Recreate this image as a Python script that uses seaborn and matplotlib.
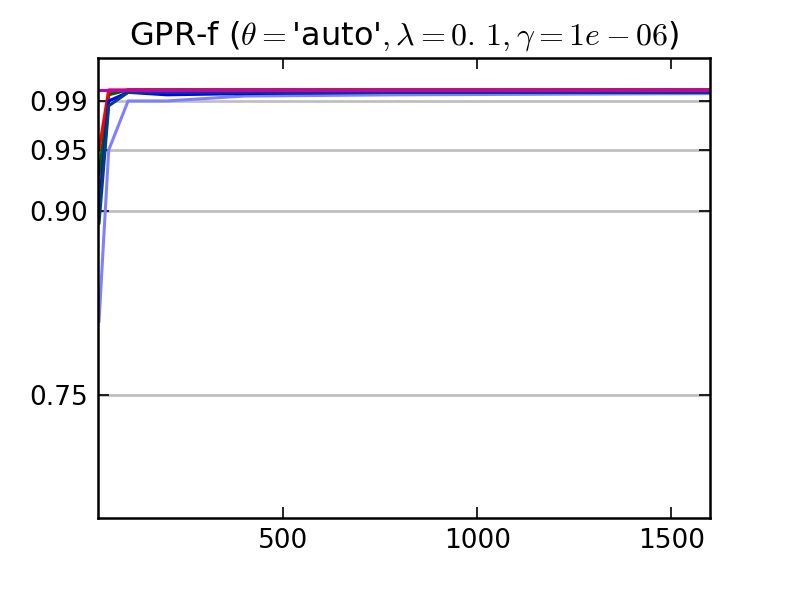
import matplotlib
matplotlib.use("Agg")
import matplotlib.pyplot as plt
import numpy as np
import pandas as pd
import seaborn as sns

# sample sizes on the x axis
n_train = [25, 50, 100, 200, 400, 800, 1600]

# scores per run
s_brown = [0.920, 0.996, 0.999, 0.999, 0.999, 0.999, 0.999]
s_green = [0.930, 0.995, 0.999, 0.999, 0.999, 0.999, 0.999]
s_red = [0.950, 0.999, 0.999, 0.999, 0.999, 0.999, 0.999]
s_light = [0.810, 0.950, 0.990, 0.990, 0.994, 0.995, 0.996]
s_blue = [0.900, 0.990, 0.997, 0.995, 0.996, 0.997, 0.997]
s_navy = [0.890, 0.986, 0.997, 0.997, 0.997, 0.997, 0.997]
s_magenta = [0.999, 0.999, 0.999, 0.999, 0.999, 0.999, 0.999]

runs = ["brown", "green", "red", "light", "blue", "navy", "magenta"]
colors = {"red": "#ff0000", "brown": "#a05000", "green": "#006000",
          "blue": "#0000ff", "navy": "#004080", "light": "#8080ff",
          "magenta": "#c000c0"}
yticks = [0.75, 0.90, 0.95, 0.99]
xticks = [500, 1000, 1500]

df = pd.DataFrame({
    "n": n_train * len(runs),
    "score": s_brown + s_green + s_red + s_light + s_blue + s_navy + s_magenta,
    "run": np.repeat(runs, len(n_train)),
})

sns.set_style("white")
plt.rcParams["mathtext.fontset"] = "cm"
plt.rcParams["font.family"] = ["DejaVu Sans"]
plt.rcParams["text.color"] = "black"

fig = plt.figure(figsize=(7.89, 5.92), dpi=100)
ax = fig.add_axes([0.124, 0.125, 0.776, 0.777])

for y in yticks:
    ax.axhline(y, color="#c0c0c0", lw=2, zorder=0)

sns.lineplot(data=df, x="n", y="score", hue="run", palette=colors,
             hue_order=runs, lw=2.2, legend=False, ax=ax)

ax.set_xlim(22, 1600)
ax.set_ylim(0.65, 1.025)
ax.set_xticks(xticks)
ax.set_yticks(yticks)
ax.set_yticklabels(["%.2f" % v for v in yticks])
ax.set_xlabel("")
ax.set_ylabel("")
ax.tick_params(direction="in", length=8, width=1.2, labelsize=19,
               top=True, right=True, left=True, bottom=True, pad=7,
               color="black", labelcolor="black")
for sp in ax.spines.values():
    sp.set_linewidth(1.8)
    sp.set_color("black")

ax.set_title(r"GPR-f ($\theta = $'auto'$, \lambda = 0.\,1, \gamma = 1e-06$)",
             fontsize=23, pad=10, color="black")

plt.savefig("out.png", dpi=100)
